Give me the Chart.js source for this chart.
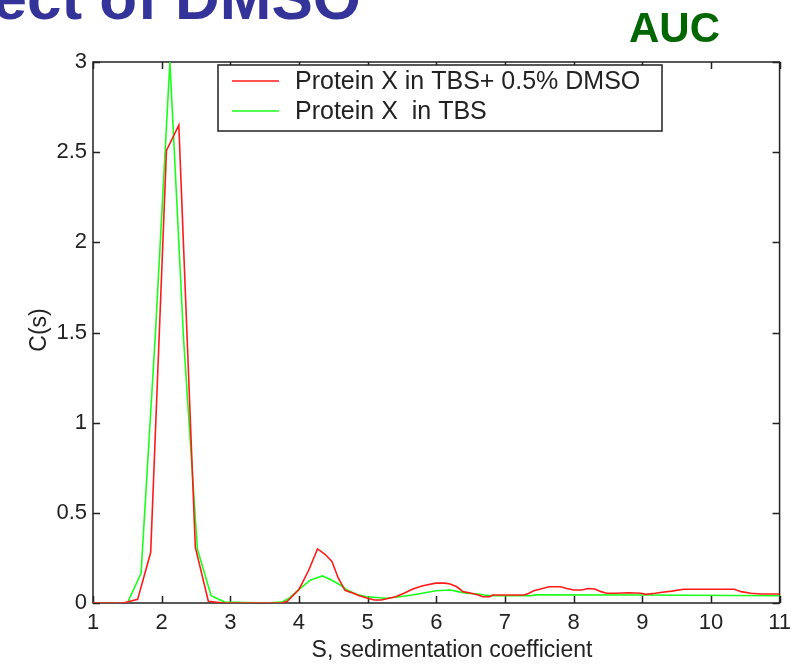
<!DOCTYPE html>
<html>
<head>
<meta charset="utf-8">
<script src="https://cdn.jsdelivr.net/npm/chart.js@4/dist/chart.umd.min.js"></script>
<style>
  html, body { margin: 0; padding: 0; background: #ffffff; }
  #wrap { width: 798px; height: 664px; }
</style>
</head>
<body>
<div id="wrap"><canvas id="c" width="798" height="664"></canvas></div>
<script>
// Sedimentation coefficient distributions c(s)
const sDmso = [1.0, 1.44, 1.65, 1.84, 2.07, 2.25, 2.49, 2.68, 2.9, 3.2, 3.5, 3.75, 3.83, 4.0, 4.14, 4.27, 4.38, 4.48, 4.57, 4.67, 4.79, 4.88, 5.0, 5.1, 5.2, 5.31, 5.41, 5.53, 5.65, 5.79, 5.99, 6.13, 6.2, 6.3, 6.39, 6.51, 6.61, 6.68, 6.78, 6.82, 7.28, 7.35, 7.42, 7.52, 7.64, 7.81, 7.9, 8.0, 8.12, 8.21, 8.31, 8.4, 8.48, 8.62, 8.81, 8.98, 9.05, 9.19, 9.29, 9.43, 9.6, 10.34, 10.44, 10.58, 10.73, 11.0];
const cDmso = [0, 0, 0.02, 0.28, 2.51, 2.65, 0.31, 0.01, 0, 0, 0, 0, 0.01, 0.075, 0.18, 0.30, 0.27, 0.23, 0.14, 0.07, 0.054, 0.04, 0.026, 0.017, 0.017, 0.026, 0.035, 0.054, 0.076, 0.094, 0.11, 0.11, 0.105, 0.09, 0.063, 0.054, 0.044, 0.035, 0.035, 0.044, 0.044, 0.054, 0.068, 0.078, 0.09, 0.09, 0.08, 0.072, 0.072, 0.08, 0.078, 0.063, 0.054, 0.054, 0.057, 0.054, 0.048, 0.054, 0.06, 0.066, 0.076, 0.076, 0.063, 0.054, 0.05, 0.05];

const sTbs = [1.0, 1.5, 1.70, 1.91, 2.12, 2.32, 2.52, 2.72, 2.92, 3.5, 3.75, 3.85, 4.0, 4.17, 4.34, 4.46, 4.6, 4.7, 4.84, 4.98, 5.27, 5.46, 5.65, 5.84, 5.99, 6.2, 6.32, 6.44, 6.61, 6.7, 6.82, 7.37, 7.45, 9.0, 11.0];
const cTbs = [0, 0, 0.165, 1.5, 3.0, 1.46, 0.3, 0.04, 0.005, 0, 0.005, 0.025, 0.076, 0.128, 0.15, 0.13, 0.1, 0.072, 0.048, 0.035, 0.026, 0.035, 0.044, 0.057, 0.068, 0.072, 0.063, 0.054, 0.05, 0.044, 0.04, 0.04, 0.045, 0.044, 0.04];

const seriesNames = ['Protein X in TBS+ 0.5% DMSO', 'Protein X  in TBS'];
const seriesColors = ['#ff1a1a', '#1aff1a'];
const xTickValues = [1, 2, 3, 4, 5, 6, 7, 8, 9, 10, 11];
const yTickValues = [0, 0.5, 1, 1.5, 2, 2.5, 3];

const FONT = '"Liberation Sans", Arial, Helvetica, sans-serif';
const INK = '#222222';

function toPoints(xs, ys) { return xs.map((x, i) => ({ x: x, y: ys[i] })); }

// Box frame with inward tick marks on all four sides
const framePlugin = {
  id: 'frame',
  beforeDatasetsDraw(chart) {
    const { ctx, chartArea: a, scales } = chart;
    ctx.save();
    ctx.strokeStyle = INK;
    ctx.lineWidth = 1.5;
    ctx.strokeRect(a.left, a.top, a.right - a.left, a.bottom - a.top);
    const len = 7;
    ctx.beginPath();
    xTickValues.forEach(v => {
      const px = Math.round(scales.x.getPixelForValue(v)) + 0.5;
      ctx.moveTo(px, a.bottom); ctx.lineTo(px, a.bottom - len);
      ctx.moveTo(px, a.top); ctx.lineTo(px, a.top + len);
    });
    yTickValues.forEach(v => {
      const py = Math.round(scales.y.getPixelForValue(v)) + 0.5;
      ctx.moveTo(a.left, py); ctx.lineTo(a.left + len, py);
      ctx.moveTo(a.right, py); ctx.lineTo(a.right - len, py);
    });
    ctx.stroke();
    ctx.restore();
  }
};

// Legend box, axis titles and headings
const textPlugin = {
  id: 'texts',
  afterDraw(chart) {
    const { ctx } = chart;
    ctx.save();
    // legend
    const bx = 218, by = 65, bw = 444, bh = 66;
    ctx.fillStyle = '#ffffff';
    ctx.fillRect(bx, by, bw, bh);
    ctx.strokeStyle = INK;
    ctx.lineWidth = 1.5;
    ctx.strokeRect(bx, by, bw, bh);
    const rows = [81, 111];
    ctx.font = '25px ' + FONT;
    ctx.textBaseline = 'middle';
    ctx.textAlign = 'left';
    seriesNames.forEach((name, i) => {
      ctx.strokeStyle = seriesColors[i];
      ctx.lineWidth = 1.5;
      ctx.beginPath();
      ctx.moveTo(232, rows[i]); ctx.lineTo(279, rows[i]);
      ctx.stroke();
      ctx.fillStyle = INK;
      ctx.fillText(name, 295, rows[i] + 1);
    });
    // axis titles
    ctx.fillStyle = INK;
    ctx.font = '23px ' + FONT;
    ctx.textAlign = 'center';
    ctx.fillText('S, sedimentation coefficient', 452, 651);
    ctx.save();
    ctx.translate(40, 330);
    ctx.rotate(-Math.PI / 2);
    ctx.fillText('C(s)', 0, 0);
    ctx.restore();
    // headings
    ctx.textBaseline = 'alphabetic';
    ctx.font = 'bold 62px ' + FONT;
    ctx.fillStyle = '#333399';
    ctx.textAlign = 'right';
    ctx.fillText('ect of DMSO', 361, 19);
    ctx.font = 'bold 42px ' + FONT;
    ctx.fillStyle = '#006600';
    ctx.textAlign = 'left';
    ctx.fillText('AUC', 629, 42);
    ctx.restore();
  }
};

new Chart(document.getElementById('c'), {
  type: 'scatter',
  data: {
    datasets: [
      { label: seriesNames[0], data: toPoints(sDmso, cDmso), borderColor: seriesColors[0], showLine: true, pointRadius: 0, borderWidth: 1.6, tension: 0 },
      { label: seriesNames[1], data: toPoints(sTbs, cTbs), borderColor: seriesColors[1], showLine: true, pointRadius: 0, borderWidth: 1.6, tension: 0 }
    ]
  },
  options: {
    responsive: false,
    animation: false,
    devicePixelRatio: 1,
    layout: { padding: { top: 62, right: 9, left: 0, bottom: 0 } },
    plugins: { legend: { display: false }, tooltip: { enabled: false }, title: { display: false } },
    scales: {
      x: {
        type: 'linear', min: 1, max: 11,
        afterFit(scale) { scale.height = 61; },
        afterBuildTicks(scale) { scale.ticks = xTickValues.map(v => ({ value: v })); },
        grid: { display: false, drawTicks: false },
        border: { display: false },
        ticks: { color: INK, font: { family: FONT, size: 22 }, padding: 7, maxRotation: 0, autoSkip: false, callback: v => String(v) }
      },
      y: {
        type: 'linear', min: 0, max: 3,
        afterFit(scale) { scale.width = 93; },
        afterBuildTicks(scale) { scale.ticks = yTickValues.map(v => ({ value: v })); },
        grid: { display: false, drawTicks: false },
        border: { display: false },
        ticks: { color: INK, font: { family: FONT, size: 22 }, padding: 6, autoSkip: false, callback: v => String(v) }
      }
    }
  },
  plugins: [framePlugin, textPlugin]
});
</script>
</body>
</html>
